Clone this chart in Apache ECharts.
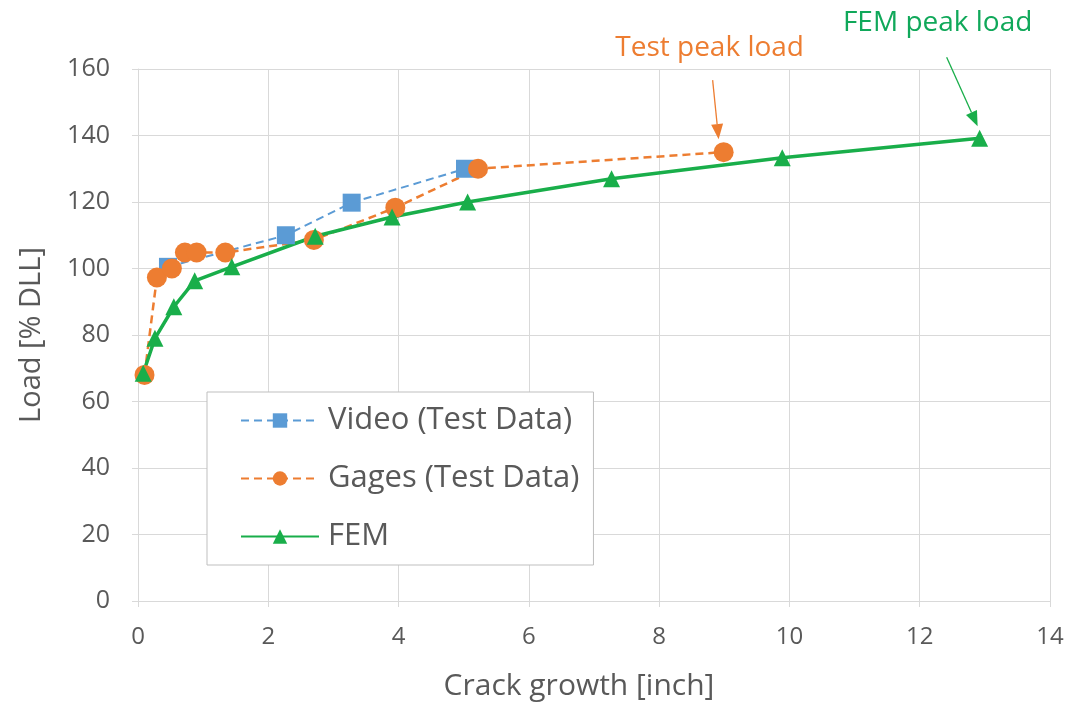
<!DOCTYPE html>
<html>
<head>
<meta charset="utf-8">
<script src="https://cdn.jsdelivr.net/npm/echarts@6/dist/echarts.min.js"></script>
<style>
  html, body { margin: 0; padding: 0; background: #fff; }
  #chart { width: 1071px; height: 707px; }
</style>
</head>
<body>
<div id="chart"></div>
<script>
// crack growth [inch], load [% DLL]
const videoData = [[0.46, 100.5], [2.27, 110], [3.28, 119.8], [5.02, 130]];
const gagesData = [
  [0.1, 68], [0.29, 97.3], [0.52, 100], [0.72, 104.8], [0.9, 104.8],
  [1.34, 104.8], [2.7, 108.6], [3.95, 118.3], [5.22, 130], [8.99, 135]
];
const femData = [
  [0.08, 68.5], [0.26, 79], [0.55, 88.5], [0.87, 96.3], [1.44, 100.5],
  [2.72, 109.7], [3.9, 115.5], [5.06, 120], [7.27, 127], [9.89, 133.3], [12.92, 139.2]
];
const seriesNames = ['Video (Test Data)', 'Gages (Test Data)', 'FEM'];
const annotations = ['Test peak load', 'FEM peak load'];

const BLUE = '#5B9BD5';
const ORANGE = '#ED7D31';
const GREEN = '#19AE4A';
const TEXT = '#595959';
const GRID = '#D9D9D9';
const FONT = 'Open Sans';

const chart = echarts.init(document.getElementById('chart'));

const option = {
  animation: false,
  textStyle: { fontFamily: FONT },
  grid: { left: 138, right: 21, top: 69, bottom: 106 },
  xAxis: {
    type: 'value',
    min: 0, max: 14, interval: 2,
    name: 'Crack growth [inch]',
    nameLocation: 'middle',
    nameGap: 70,
    nameTextStyle: { fontSize: 30, color: TEXT, fontFamily: FONT, padding: [0, 30, 0, 0] },
    axisLine: { lineStyle: { color: GRID } },
    axisTick: { show: true, length: 6, lineStyle: { color: GRID } },
    axisLabel: { fontSize: 24, color: TEXT, margin: 24, fontFamily: FONT },
    splitLine: { lineStyle: { color: GRID } }
  },
  yAxis: {
    type: 'value',
    min: 0, max: 160, interval: 20,
    name: 'Load [% DLL]',
    nameLocation: 'middle',
    nameGap: 92,
    nameTextStyle: { fontSize: 29, color: TEXT, fontFamily: FONT },
    axisLine: { show: true, lineStyle: { color: GRID } },
    axisTick: { show: true, length: 6, lineStyle: { color: GRID } },
    axisLabel: { fontSize: 25, color: TEXT, margin: 28, fontFamily: FONT },
    splitLine: { lineStyle: { color: GRID } }
  },
  legend: {
    orient: 'vertical',
    left: 207,
    top: 392,
    data: seriesNames,
    itemWidth: 78,
    itemHeight: 18,
    itemGap: 27,
    padding: [13, 14, 13, 33],
    borderColor: '#BFBFBF',
    borderWidth: 1,
    backgroundColor: '#fff',
    textStyle: { fontSize: 31, color: TEXT, fontFamily: FONT, padding: [0, 0, 0, 4] }
  },
  series: [
    {
      name: seriesNames[0],
      type: 'line',
      data: videoData,
      symbol: 'rect',
      symbolSize: 18,
      lineStyle: { color: BLUE, width: 2, type: [8, 5] },
      itemStyle: { color: BLUE }
    },
    {
      name: seriesNames[1],
      type: 'line',
      data: gagesData,
      symbol: 'circle',
      symbolSize: 20,
      lineStyle: { color: ORANGE, width: 2.5, type: [8, 5] },
      itemStyle: { color: ORANGE }
    },
    {
      name: seriesNames[2],
      type: 'line',
      data: femData,
      symbol: 'triangle',
      symbolSize: 17,
      lineStyle: { color: GREEN, width: 3.5 },
      itemStyle: { color: GREEN }
    }
  ]
};

chart.setOption(option);

// arrows + labels placed relative to the peak points
function arrow(p, from, to, color) {
  const x1 = p[0] + from[0], y1 = p[1] + from[1];
  const x2 = p[0] + to[0], y2 = p[1] + to[1];
  const ang = Math.atan2(y2 - y1, x2 - x1);
  const len = 15, half = 6;
  const bx = x2 - len * Math.cos(ang), by = y2 - len * Math.sin(ang);
  const nx = -Math.sin(ang) * half, ny = Math.cos(ang) * half;
  return [
    { type: 'line', shape: { x1, y1, x2: bx, y2: by }, style: { stroke: color, lineWidth: 1.3 } },
    { type: 'polygon', shape: { points: [[x2, y2], [bx + nx, by + ny], [bx - nx, by - ny]] }, style: { fill: color } }
  ];
}

const testPeak = chart.convertToPixel({ gridIndex: 0 }, gagesData[gagesData.length - 1]);
const femPeak = chart.convertToPixel({ gridIndex: 0 }, femData[femData.length - 1]);

const graphics = [].concat(
  arrow(testPeak, [-11, -72], [-5, -13], ORANGE),
  arrow(femPeak, [-33, -81], [-2, -12], GREEN),
  [
    {
      type: 'text', x: testPeak[0] - 14, y: testPeak[1] - 104,
      style: { text: annotations[0], fill: ORANGE, fontSize: 28, fontFamily: FONT, align: 'center', verticalAlign: 'middle' }
    },
    {
      type: 'text', x: femPeak[0] - 42, y: femPeak[1] - 115,
      style: { text: annotations[1], fill: '#10A85A', fontSize: 28, fontFamily: FONT, align: 'center', verticalAlign: 'middle' }
    }
  ]
);

chart.setOption({ graphic: graphics });
</script>
</body>
</html>
